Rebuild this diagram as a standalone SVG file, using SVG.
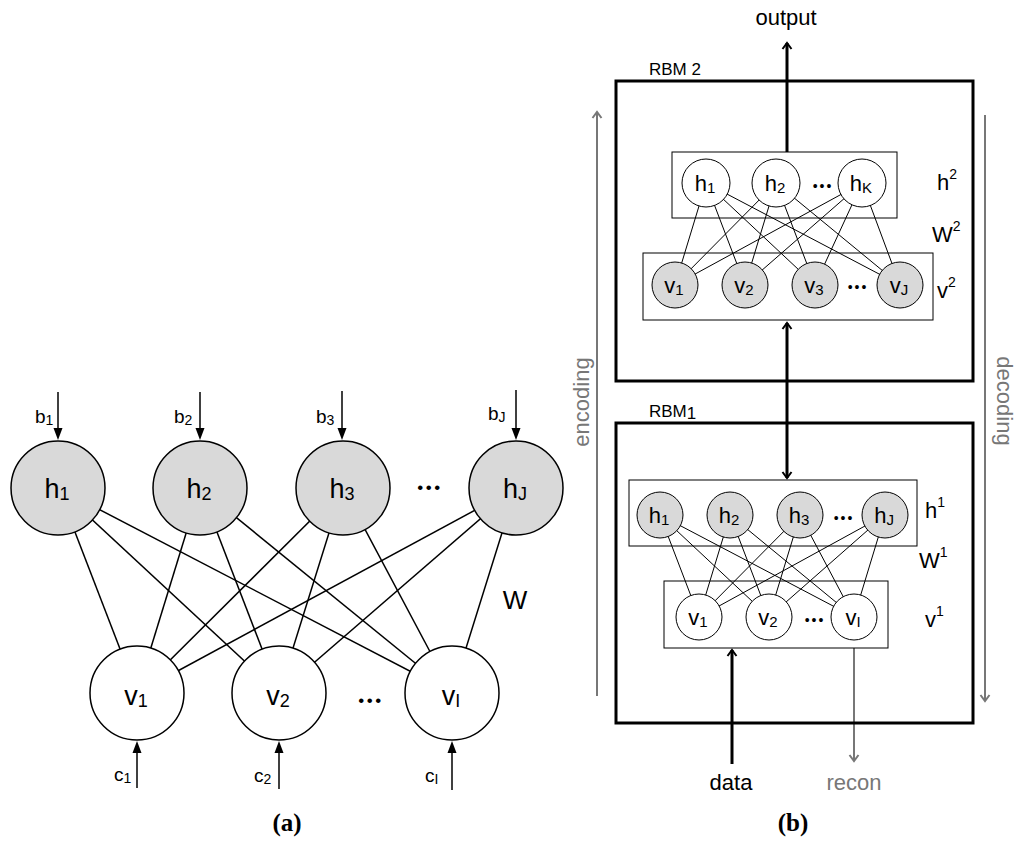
<svg xmlns="http://www.w3.org/2000/svg" width="1024" height="845" viewBox="0 0 1024 845">
<style>
text{font-family:"Liberation Sans",Arial,sans-serif;fill:#000}
.hid{fill:#d9d9d9;stroke:#000;stroke-width:1.5}
.vis{fill:#fff;stroke:#000;stroke-width:1.5}
.hid2{fill:#d9d9d9;stroke:#000;stroke-width:1}
.vis2{fill:#fff;stroke:#000;stroke-width:1}
.e{stroke:#000;stroke-width:1.5}
.e2{stroke:#000;stroke-width:1}
.box{fill:none;stroke:#000;stroke-width:1}
.rbm{fill:none;stroke:#000;stroke-width:3}
.bias{stroke:#000;stroke-width:1.5;marker-end:url(#tri)}
.thick{stroke:#000;stroke-width:3;fill:none;marker-end:url(#chev)}
.gray{stroke:#777;stroke-width:2;fill:none;marker-end:url(#chevg)}
.lbl{font-size:27px;text-anchor:middle}
.sm{font-size:22px;text-anchor:middle}
.dots{font-size:17px;text-anchor:middle;letter-spacing:2.5px}
.dots2{font-size:14px;text-anchor:middle;letter-spacing:2px}
.cap{font-family:"Liberation Serif","Times New Roman",serif;font-weight:bold;font-size:25px;text-anchor:middle}
</style>
<defs>
<marker id="tri" markerUnits="userSpaceOnUse" viewBox="-3 -6 16 12" markerWidth="16" markerHeight="12" refX="0" refY="0" orient="auto">
<path d="M-2,-4.5 L10,0 L-2,4.5 Z" fill="#000"/>
</marker>
<marker id="chev" markerUnits="userSpaceOnUse" viewBox="-10 -8 14 16" markerWidth="14" markerHeight="16" refX="0" refY="0" orient="auto-start-reverse">
<path d="M-6,-4.5 L0,0 L-6,4.5" fill="none" stroke="#000" stroke-width="2"/>
</marker>
<marker id="chevg" markerUnits="userSpaceOnUse" viewBox="-10 -8 14 16" markerWidth="14" markerHeight="16" refX="0" refY="0" orient="auto">
<path d="M-6,-4.5 L0,0 L-6,4.5" fill="none" stroke="#777" stroke-width="2"/>
</marker>
</defs>
<rect width="1024" height="845" fill="#fff"/>

<!-- (a) -->
<g id="a-connectors">
<line class="e" x1="58" y1="488" x2="137" y2="693"/>
<line class="e" x1="58" y1="488" x2="279" y2="693"/>
<line class="e" x1="58" y1="488" x2="452" y2="693"/>
<line class="e" x1="200" y1="488" x2="137" y2="693"/>
<line class="e" x1="200" y1="488" x2="279" y2="693"/>
<line class="e" x1="200" y1="488" x2="452" y2="693"/>
<line class="e" x1="343" y1="488" x2="137" y2="693"/>
<line class="e" x1="343" y1="488" x2="279" y2="693"/>
<line class="e" x1="343" y1="488" x2="452" y2="693"/>
<line class="e" x1="516" y1="488" x2="137" y2="693"/>
<line class="e" x1="516" y1="488" x2="279" y2="693"/>
<line class="e" x1="516" y1="488" x2="452" y2="693"/>
<line class="bias" x1="58" y1="392" x2="58" y2="430"/>
<line class="bias" x1="200" y1="392" x2="200" y2="430"/>
<line class="bias" x1="342" y1="391" x2="342" y2="430"/>
<line class="bias" x1="516" y1="390" x2="516" y2="430"/>
<line class="bias" x1="137" y1="788" x2="137" y2="751"/>
<line class="bias" x1="279" y1="789" x2="279" y2="751"/>
<line class="bias" x1="452" y1="790" x2="452" y2="751"/>
</g>
<g id="a-h1"><circle class="hid" cx="58" cy="488" r="47"/><text class="lbl" x="57" y="498">h<tspan font-size="18" dy="2">1</tspan></text><text x="35" y="423" font-size="19">b<tspan font-size="14" dy="2">1</tspan></text></g>
<g id="a-h2"><circle class="hid" cx="200" cy="488" r="47"/><text class="lbl" x="199" y="498">h<tspan font-size="18" dy="2">2</tspan></text><text x="174" y="423" font-size="19">b<tspan font-size="14" dy="2">2</tspan></text></g>
<g id="a-h3"><circle class="hid" cx="343" cy="488" r="47"/><text class="lbl" x="342" y="498">h<tspan font-size="18" dy="2">3</tspan></text><text x="316" y="423" font-size="19">b<tspan font-size="14" dy="2">3</tspan></text></g>
<g id="a-hJ"><circle class="hid" cx="516" cy="488" r="47"/><text class="lbl" x="515" y="498">h<tspan font-size="18" dy="2">J</tspan></text><text x="488" y="420" font-size="19">b<tspan font-size="14" dy="2">J</tspan></text></g>
<text class="dots" x="430" y="493">•••</text>
<g id="a-v1"><circle class="vis" cx="137" cy="693" r="47"/><text class="lbl" x="136" y="705">v<tspan font-size="18" dy="2">1</tspan></text><text x="114" y="781" font-size="19">c<tspan font-size="14" dy="2">1</tspan></text></g>
<g id="a-v2"><circle class="vis" cx="279" cy="693" r="47"/><text class="lbl" x="278" y="705">v<tspan font-size="18" dy="2">2</tspan></text><text x="254" y="782" font-size="19">c<tspan font-size="14" dy="2">2</tspan></text></g>
<g id="a-vI"><circle class="vis" cx="452" cy="693" r="47"/><text class="lbl" x="451" y="705">v<tspan font-size="18" dy="2">I</tspan></text><text x="425" y="782" font-size="19">c<tspan font-size="14" dy="2">I</tspan></text></g>
<text class="dots" x="371" y="706">•••</text>
<text x="515" y="609" font-size="26" text-anchor="middle">W</text>
<text class="cap" x="287" y="831">(a)</text>

<!-- (b) -->
<g id="b-connectors">
<line class="e2" x1="706" y1="183" x2="675" y2="285"/>
<line class="e2" x1="706" y1="183" x2="745" y2="285"/>
<line class="e2" x1="706" y1="183" x2="815" y2="285"/>
<line class="e2" x1="706" y1="183" x2="900" y2="285"/>
<line class="e2" x1="776" y1="183" x2="675" y2="285"/>
<line class="e2" x1="776" y1="183" x2="745" y2="285"/>
<line class="e2" x1="776" y1="183" x2="815" y2="285"/>
<line class="e2" x1="776" y1="183" x2="900" y2="285"/>
<line class="e2" x1="862" y1="183" x2="675" y2="285"/>
<line class="e2" x1="862" y1="183" x2="745" y2="285"/>
<line class="e2" x1="862" y1="183" x2="815" y2="285"/>
<line class="e2" x1="862" y1="183" x2="900" y2="285"/>
<line class="e2" x1="660" y1="515" x2="699" y2="617"/>
<line class="e2" x1="660" y1="515" x2="769" y2="617"/>
<line class="e2" x1="660" y1="515" x2="854" y2="617"/>
<line class="e2" x1="730" y1="515" x2="699" y2="617"/>
<line class="e2" x1="730" y1="515" x2="769" y2="617"/>
<line class="e2" x1="730" y1="515" x2="854" y2="617"/>
<line class="e2" x1="800" y1="515" x2="699" y2="617"/>
<line class="e2" x1="800" y1="515" x2="769" y2="617"/>
<line class="e2" x1="800" y1="515" x2="854" y2="617"/>
<line class="e2" x1="885" y1="515" x2="699" y2="617"/>
<line class="e2" x1="885" y1="515" x2="769" y2="617"/>
<line class="e2" x1="885" y1="515" x2="854" y2="617"/>
<line class="thick" x1="787" y1="152" x2="787" y2="43"/>
<line class="thick" style="marker-start:url(#chev)" x1="787" y1="323" x2="787" y2="478"/>
<line class="thick" x1="732" y1="764" x2="732" y2="650"/>
<line class="gray" x1="854" y1="648" x2="854" y2="761"/>
<line class="gray" x1="597" y1="696" x2="597" y2="112"/>
<line class="gray" x1="985" y1="115" x2="985" y2="701"/>
</g>
<g id="rbm2">
<rect class="rbm" x="616" y="81" width="357" height="300"/>
<text x="649" y="75" font-size="17">RBM 2</text>
<rect class="box" x="672" y="152" width="225" height="66"/>
<rect class="box" x="643" y="253" width="290" height="67"/>
</g>
<g id="b2-h1"><circle class="vis2" cx="706" cy="183" r="24"/><text class="sm" x="705" y="191">h<tspan font-size="15" dy="2">1</tspan></text></g>
<g id="b2-h2"><circle class="vis2" cx="776" cy="183" r="24"/><text class="sm" x="775" y="191">h<tspan font-size="15" dy="2">2</tspan></text></g>
<g id="b2-hK"><circle class="vis2" cx="862" cy="183" r="24"/><text class="sm" x="861" y="191">h<tspan font-size="15" dy="2">K</tspan></text></g>
<text class="dots2" x="823" y="191">•••</text>
<g id="b2-v1"><circle class="hid2" cx="675" cy="285" r="23"/><text class="sm" x="674" y="293">v<tspan font-size="15" dy="2">1</tspan></text></g>
<g id="b2-v2"><circle class="hid2" cx="745" cy="285" r="23"/><text class="sm" x="744" y="293">v<tspan font-size="15" dy="2">2</tspan></text></g>
<g id="b2-v3"><circle class="hid2" cx="815" cy="285" r="23"/><text class="sm" x="814" y="293">v<tspan font-size="15" dy="2">3</tspan></text></g>
<g id="b2-vJ"><circle class="hid2" cx="900" cy="285" r="23"/><text class="sm" x="899" y="293">v<tspan font-size="15" dy="2">J</tspan></text></g>
<text class="dots2" x="858" y="292">•••</text>
<text x="937" y="190" font-size="22">h<tspan font-size="14" dy="-11">2</tspan></text>
<text x="932" y="242" font-size="22">W<tspan font-size="14" dy="-11">2</tspan></text>
<text x="937" y="298" font-size="22">v<tspan font-size="14" dy="-11">2</tspan></text>

<g id="rbm1">
<rect class="rbm" x="616" y="423" width="357" height="300"/>
<text x="649" y="417" font-size="17">RBM<tspan dy="2">1</tspan></text>
<rect class="box" x="629" y="480" width="288" height="66"/>
<rect class="box" x="664" y="581" width="224" height="67"/>
</g>
<g id="b1-h1"><circle class="hid2" cx="660" cy="515" r="23"/><text class="sm" x="659" y="523">h<tspan font-size="15" dy="2">1</tspan></text></g>
<g id="b1-h2"><circle class="hid2" cx="730" cy="515" r="23"/><text class="sm" x="729" y="523">h<tspan font-size="15" dy="2">2</tspan></text></g>
<g id="b1-h3"><circle class="hid2" cx="800" cy="515" r="23"/><text class="sm" x="799" y="523">h<tspan font-size="15" dy="2">3</tspan></text></g>
<g id="b1-hJ"><circle class="hid2" cx="885" cy="515" r="23"/><text class="sm" x="884" y="523">h<tspan font-size="15" dy="2">J</tspan></text></g>
<text class="dots2" x="844" y="523">•••</text>
<g id="b1-v1"><circle class="vis2" cx="699" cy="617" r="23"/><text class="sm" x="698" y="625">v<tspan font-size="15" dy="2">1</tspan></text></g>
<g id="b1-v2"><circle class="vis2" cx="769" cy="617" r="23"/><text class="sm" x="768" y="625">v<tspan font-size="15" dy="2">2</tspan></text></g>
<g id="b1-vI"><circle class="vis2" cx="854" cy="617" r="23"/><text class="sm" x="853" y="625">v<tspan font-size="15" dy="2">I</tspan></text></g>
<text class="dots2" x="815" y="625">•••</text>
<text x="925" y="518" font-size="22">h<tspan font-size="14" dy="-11">1</tspan></text>
<text x="919" y="568" font-size="22">W<tspan font-size="14" dy="-11">1</tspan></text>
<text x="925" y="627" font-size="22">v<tspan font-size="14" dy="-11">1</tspan></text>

<text x="786" y="25" font-size="22" text-anchor="middle">output</text>
<text x="731" y="790" font-size="22" text-anchor="middle">data</text>
<text x="854" y="790" font-size="22" text-anchor="middle" style="fill:#777">recon</text>
<text transform="translate(589,402) rotate(-90)" font-size="22" text-anchor="middle" style="fill:#777">encoding</text>
<text transform="translate(997,401) rotate(90)" font-size="22" text-anchor="middle" style="fill:#777">decoding</text>
<text class="cap" x="793" y="831">(b)</text>
</svg>
